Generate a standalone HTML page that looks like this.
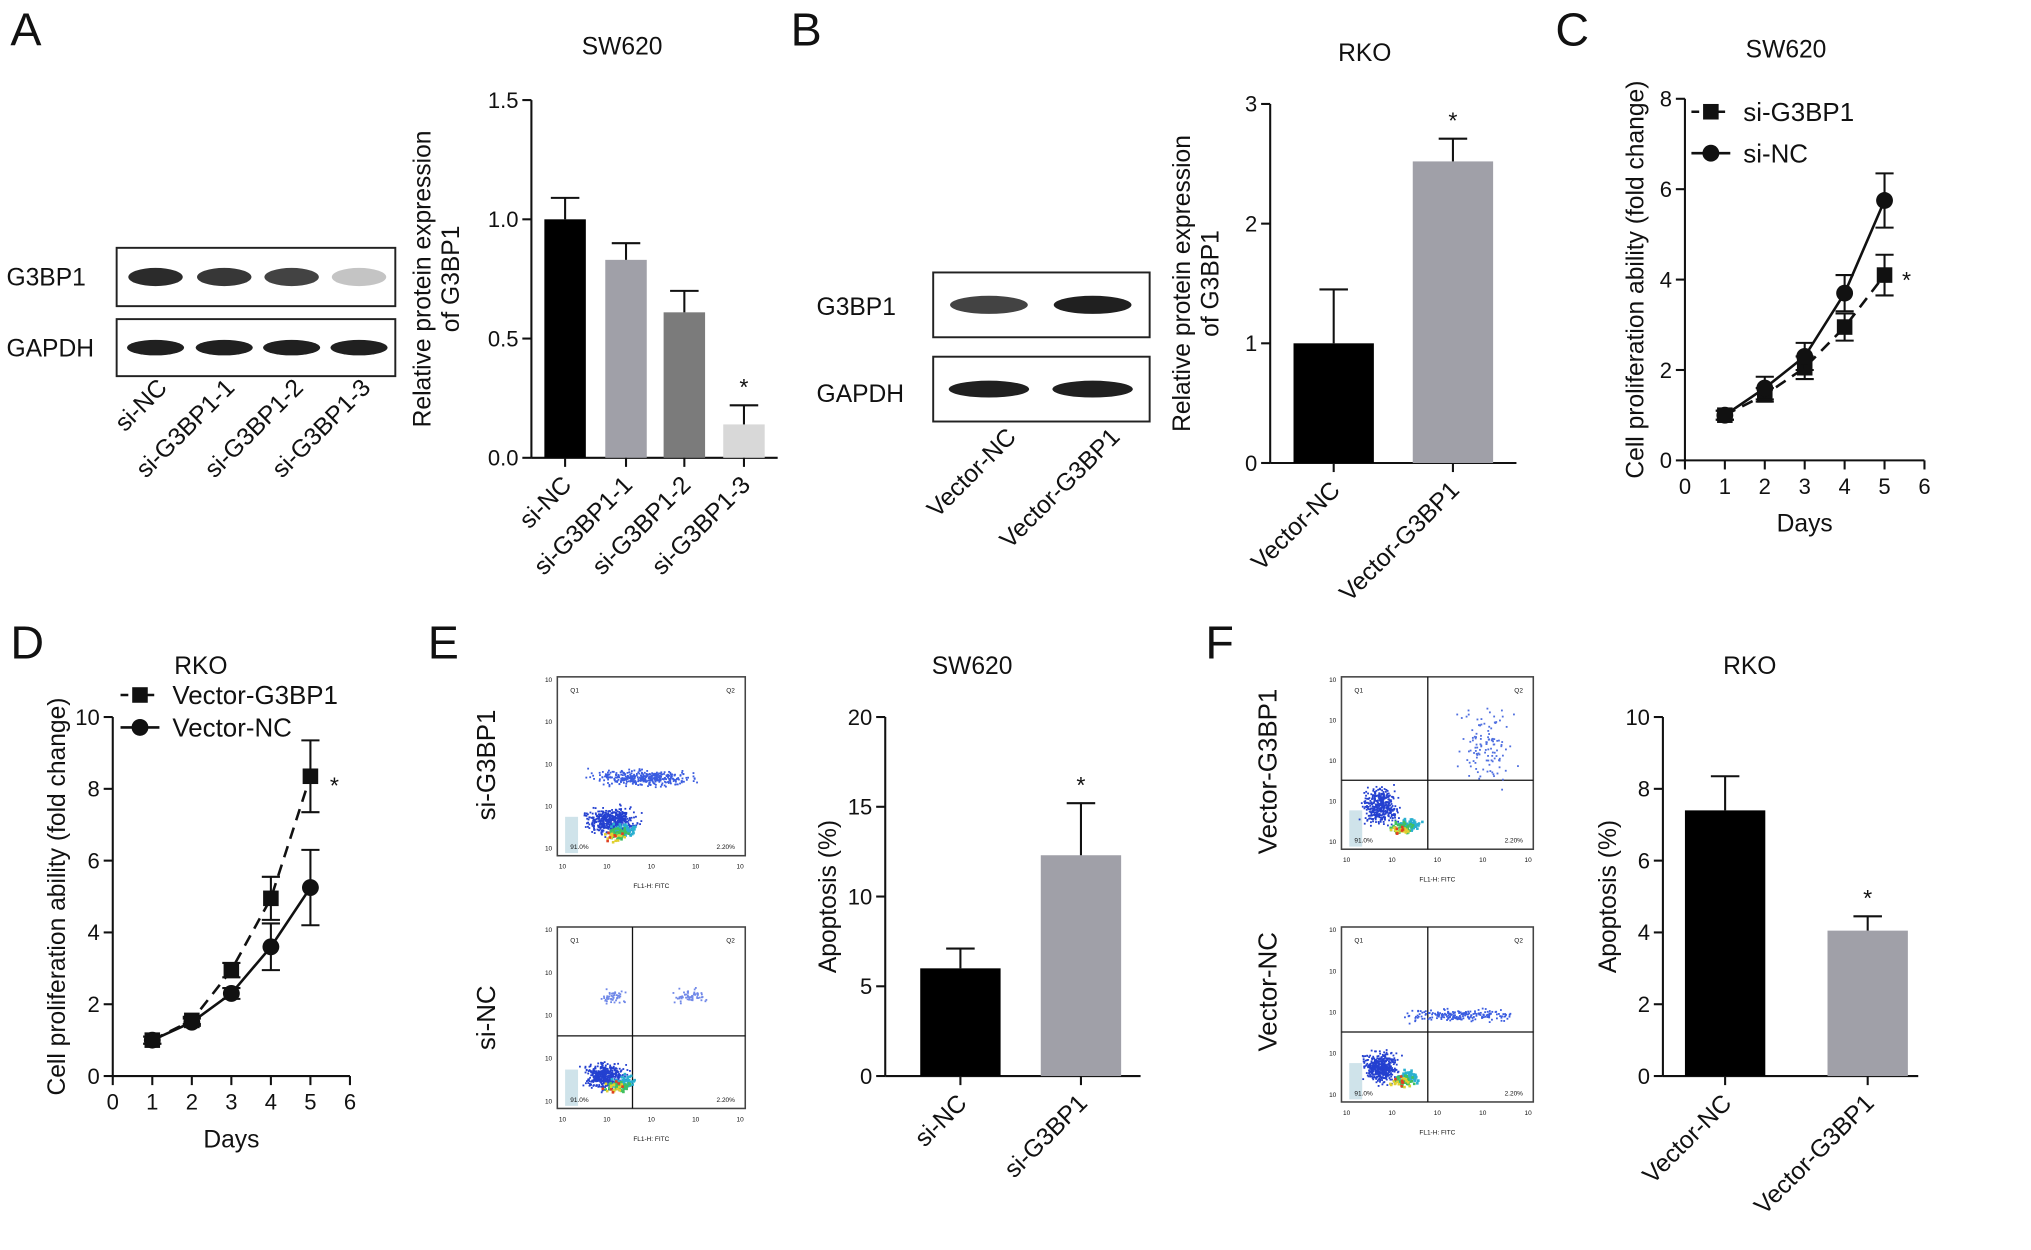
<!DOCTYPE html>
<html><head><meta charset="utf-8"><style>
html,body{margin:0;padding:0;background:#fff;}
svg{display:block;font-family:"Liberation Sans",Arial,sans-serif;}
</style></head><body>
<svg id="fig" width="2031" height="1250" viewBox="0 0 1567 964" xmlns="http://www.w3.org/2000/svg">
<rect width="1567" height="964" fill="#fff"/>
<g id="root"></g>
</svg>
<script>
// ---- data ----
const aCats=["si-NC","si-G3BP1-1","si-G3BP1-2","si-G3BP1-3"];
const aVals=[1.0,0.83,0.61,0.14];
const aErr=[0.09,0.07,0.09,0.08];
const aTicks=[0,0.5,1.0,1.5];
const bCats=["Vector-NC","Vector-G3BP1"];
const bVals=[1.0,2.52];
const bErr=[0.45,0.19];
const bTicks=[0,1,2,3];
const days=[1,2,3,4,5];
const dayTicks=[0,1,2,3,4,5,6];
const cSi=[1,1.45,2.05,2.95,4.1];
const cSiErr=[0.1,0.15,0.25,0.3,0.45];
const cNC=[1,1.6,2.3,3.7,5.75];
const cNCErr=[0.1,0.25,0.3,0.4,0.6];
const cTicks=[0,2,4,6,8];
const dG=[1,1.55,2.95,4.95,8.35];
const dGErr=[0.1,0.1,0.2,0.6,1.0];
const dNC=[1,1.5,2.3,3.6,5.25];
const dNCErr=[0.1,0.1,0.15,0.65,1.05];
const dTicks=[0,2,4,6,8,10];
const eCats=["si-NC","si-G3BP1"];
const eVals=[6.0,12.3];
const eErr=[1.1,2.9];
const eTicks=[0,5,10,15,20];
const fCats=["Vector-NC","Vector-G3BP1"];
const fVals=[7.4,4.05];
const fErr=[0.95,0.4];
const fTicks=[0,2,4,6,8,10];

const NS="http://www.w3.org/2000/svg";
const root=document.getElementById('root');
function el(tag,attrs,parent,text){const e=document.createElementNS(NS,tag);for(const k in attrs)e.setAttribute(k,attrs[k]);if(text!==undefined)e.textContent=text;(parent||root).appendChild(e);return e;}
function txt(x,y,s,size,anchor,parent,rot,name){const t=el('text',{x:x,y:y,'font-size':size,'text-anchor':anchor||'middle',fill:'#111'},parent,s);if(rot)t.setAttribute('transform','rotate('+rot+' '+x+' '+y+')');return t;}
function line(x1,y1,x2,y2,parent,w,dash){const l=el('line',{x1,y1,x2,y2,stroke:'#111','stroke-width':w||1.6},parent);if(dash)l.setAttribute('stroke-dasharray',dash);return l;}

[["A",8,35],["B",610,35],["C",1200,35],["D",8,508],["E",330,508],["F",930,508]].forEach(p=>{txt(p[1],p[2],p[0],36,'start',root,0,'panel-label-'+p[0].toLowerCase());});

function yAxis(g,x,y0,y1,ticks,max,fmt){const sy=v=>y0-(v/max)*(y0-y1);line(x,y0,x,y1,g);ticks.forEach(t=>{const y=sy(t);line(x-7,y,x,y,g);txt(x-10,y+6,fmt?fmt(t):String(t),17,'end',g,0,'y-tick-label');});return sy;}

function barChart(g,o){
 const sy=yAxis(g,o.ax,o.y0,o.y1,o.ticks,o.max,o.fmt);
 line(o.ax,o.y0,o.x1,o.y0,g);
 o.cats.forEach((c,i)=>{const bx=o.bx[i];const y=sy(o.vals[i]);
  const r=el('rect',{x:bx,y:y,width:o.bw,height:o.y0-y,fill:o.colors[i]},g);
  
  
  const cx=bx+o.bw/2,ye=sy(o.vals[i]+o.err[i]);
  line(cx,y,cx,ye,g);line(cx-11,ye,cx+11,ye,g);
  line(cx,o.y0,cx,o.y0+7,g);
  txt(cx+6,o.y0+22,c,19,'end',g,-45,'x-tick-label');
  if(o.star&&o.star[i])txt(cx,ye-8,'*',18,'middle',g,0,'significance-marker');
 });
 txt(o.tx,o.ty,o.title,19,'middle',g,0,'chart-title');
 o.ylab.forEach((s,k)=>txt(o.ylx+k*22,(o.y0+o.y1)/2,s,19,'middle',g,-90,'y-axis-title'));
}

function blot(g,x,y,w,h,lanes,intens,lw,lh,name){const r=el('rect',{x,y,width:w,height:h,fill:'#fff',stroke:'#222','stroke-width':1.5},g);
 lanes.forEach((lx,i)=>{const a=intens[i];el('ellipse',{cx:lx,cy:y+h/2,rx:lw/2,ry:lh/2,fill:'rgba(20,20,20,'+a+')'},g);});}

const gA=el('g',{});
blot(gA,90,191,215,45,[120,173,225,277],[0.9,0.85,0.8,0.25],42,14,'blot-g3bp1-a');
blot(gA,90,246,215,44,[120,173,225,277],[0.95,0.95,0.95,0.95],44,12,'blot-gapdh-a');
txt(5,220,'G3BP1',19,'start',gA,0,'blot-label');txt(5,275,'GAPDH',19,'start',gA,0,'blot-label');
[130,182,235,287].forEach((x,i)=>txt(x,300,aCats[i],19,'end',gA,-45,'lane-label'));
const gAc=el('g',{},gA);
barChart(gAc,{ax:410,y0:353,y1:77,ticks:aTicks,max:1.5,fmt:t=>t.toFixed(1),x1:600,cats:aCats,vals:aVals,err:aErr,bx:[420,467,512,558],bw:32,colors:['#000','#a0a0a8','#7b7b7b','#d8d8d8'],star:[0,0,0,1],title:'SW620',tx:480,ty:42,ylab:['Relative protein expression','of G3BP1'],ylx:332});

const gB=el('g',{});
blot(gB,720,210,167,50,[763,843],[0.8,0.95],60,14,'blot-g3bp1-b');
blot(gB,720,275,167,50,[763,843],[0.95,0.95],62,13,'blot-gapdh-b');
txt(630,243,'G3BP1',19,'start',gB,0,'blot-label');txt(630,310,'GAPDH',19,'start',gB,0,'blot-label');
[785,865].forEach((x,i)=>txt(x,338,bCats[i],19,'end',gB,-45,'lane-label'));
const gBc=el('g',{},gB);
barChart(gBc,{ax:980,y0:357,y1:80,ticks:bTicks,max:3,x1:1170,cats:bCats,vals:bVals,err:bErr,bx:[998,1090],bw:62,colors:['#000','#a0a0a8'],star:[0,1],title:'RKO',tx:1053,ty:47,ylab:['Relative protein expression','of G3BP1'],ylx:918});

function lineChart(g,o){
 const sy=yAxis(g,o.ax,o.y0,o.y1,o.ticks,o.max);
 const sx=d=>o.ax+d*o.dx;
 line(o.ax,o.y0,sx(6),o.y0,g);
 dayTicks.forEach(d=>{line(sx(d),o.y0,sx(d),o.y0+7,g);txt(sx(d),o.y0+26,String(d),17,'middle',g,0,'x-tick-label');});
 txt(sx(3),o.y0+55,'Days',19,'middle',g,0,'x-axis-title');
 txt(o.ylx,(o.y0+o.y1)/2,'Cell proliferation ability (fold change)',19,'middle',g,-90,'y-axis-title');
 txt(o.tx,o.ty,o.title,19,'middle',g,0,'chart-title');
 o.series.forEach((s,si)=>{
  const pts=days.map((d,i)=>sx(d)+','+sy(s.v[i])).join(' ');
  const pl=el('polyline',{points:pts,fill:'none',stroke:'#111','stroke-width':2},g);
  if(s.dash)pl.setAttribute('stroke-dasharray','9,6');
  
  
  days.forEach((d,i)=>{const x=sx(d),y=sy(s.v[i]),yt=sy(s.v[i]+s.e[i]),yb=sy(s.v[i]-s.e[i]);
   line(x,yb,x,yt,g);line(x-7,yt,x+7,yt,g);line(x-7,yb,x+7,yb,g);
   let m;
   if(s.sq)m=el('rect',{x:x-6,y:y-6,width:12,height:12,fill:'#111'},g);else m=el('circle',{cx:x,cy:y,r:6.5,fill:'#111'},g);
   
   
  });
 });
 txt(o.starx,o.stary,'*',18,'middle',g,0,'significance-marker');
 o.series.forEach((s,si)=>{const ly=o.ly+si*o.lgap;const lx=o.lx;
  line(lx,ly,lx+30,ly,g,2,s.dash?'6,4':null);
  if(s.sq)el('rect',{x:lx+9,y:ly-6,width:12,height:12,fill:'#111'},g);else el('circle',{cx:lx+15,cy:ly,r:6.5,fill:'#111'},g);
  txt(lx+40,ly+7,s.label,20,'start',g,0,'legend-entry');});
}
const gC=el('g',{});
lineChart(gC,{ax:1300,y0:355,y1:76,max:8,ticks:cTicks,dx:30.8,ylx:1268,tx:1378,ty:44,title:'SW620',lx:1305,ly:86,lgap:32,starx:1471,stary:222,
 series:[{name:'si-g3bp1',label:'si-G3BP1',v:cSi,e:cSiErr,dash:true,sq:true},{name:'si-nc',label:'si-NC',v:cNC,e:cNCErr,dash:false,sq:false}]});
const gD=el('g',{});
lineChart(gD,{ax:87,y0:830,y1:553,max:10,ticks:dTicks,dx:30.5,ylx:50,tx:155,ty:520,title:'RKO',lx:93,ly:536,lgap:25,starx:258,stary:612,
 series:[{name:'vector-g3bp1',label:'Vector-G3BP1',v:dG,e:dGErr,dash:true,sq:true},{name:'vector-nc',label:'Vector-NC',v:dNC,e:dNCErr,dash:false,sq:false}]});

let seed=7;function rnd(){seed=(seed*16807)%2147483647;return seed/2147483647;}
function gauss(){return (rnd()+rnd()+rnd()-1.5)/1.5;}
function flow(g,x,y,w,h,clusters,quad,name){
 const fg=el('g',{},g);
 el('rect',{x,y,width:w,height:h,fill:'#fff',stroke:'#444','stroke-width':1.2},fg);
 if(quad){line(x+w*quad[0],y,x+w*quad[0],y+h,fg,1);line(x,y+h*quad[1],x+w,y+h*quad[1],fg,1);}
 el('rect',{x:x+6,y:y+h-30,width:10,height:28,fill:'#cfe3ea'},fg);
 clusters.forEach(c=>{for(let i=0;i<c.n;i++){const px=x+w*(c.cx+gauss()*c.sx),py=y+h*(c.cy+gauss()*c.sy);
  if(px<x+2||px>x+w-2||py<y+2||py>y+h-2)continue;el('rect',{x:px,y:py,width:1.4,height:1.4,fill:c.col},fg);}});
 [[0.35,0.85,'#2ab0d0',60],[0.32,0.87,'#40c060',40],[0.3,0.88,'#e0d030',15],[0.3,0.88,'#e04020',6]].forEach(c=>{for(let i=0;i<c[3];i++){el('rect',{x:x+w*(c[0]+gauss()*0.08),y:y+h*(c[1]+gauss()*0.05),width:2,height:2,fill:c[2]},fg);}});
 for(let k=0;k<5;k++){txt(x-4,y+4+k*(h-8)/4,'10',5,'end',fg,0,'flow-tick');txt(x+4+k*(w-8)/4,y+h+10,'10',5,'middle',fg,0,'flow-tick');}
 txt(x+w/2,y+h+25,'FL1-H: FITC',5,'middle',fg,0,'flow-axis-title');
 txt(x+10,y+12,'Q1',5,'start',fg,0,'flow-quadrant');txt(x+w-8,y+12,'Q2',5,'end',fg,0,'flow-quadrant');
 txt(x+10,y+h-5,'91.0%',5,'start',fg,0,'flow-quadrant');txt(x+w-8,y+h-5,'2.20%',5,'end',fg,0,'flow-quadrant');
}
const gE=el('g',{});
flow(gE,430,522,145,138,[{cx:0.45,cy:0.56,sx:0.35,sy:0.06,n:380,col:'#3a5ce0'},{cx:0.28,cy:0.8,sx:0.18,sy:0.1,n:500,col:'#2440d0'}],null,'flow-plot-si-g3bp1');
flow(gE,430,715,145,140,[{cx:0.3,cy:0.38,sx:0.1,sy:0.05,n:50,col:'#7088e8'},{cx:0.7,cy:0.38,sx:0.12,sy:0.06,n:60,col:'#7088e8'},{cx:0.25,cy:0.82,sx:0.15,sy:0.1,n:450,col:'#2440d0'}],[0.4,0.6],'flow-plot-si-nc');
txt(382,590,'si-G3BP1',20,'middle',gE,-90,'row-label');txt(382,785,'si-NC',20,'middle',gE,-90,'row-label');
const gEc=el('g',{},gE);
barChart(gEc,{ax:683,y0:830,y1:553,ticks:eTicks,max:20,x1:880,cats:eCats,vals:eVals,err:eErr,bx:[710,803],bw:62,colors:['#000','#a0a0a8'],star:[0,1],title:'SW620',tx:750,ty:520,ylab:['Apoptosis (%)'],ylx:645});

const gF=el('g',{});
flow(gF,1035,522,148,133,[{cx:0.75,cy:0.4,sx:0.2,sy:0.3,n:120,col:'#5070e0'},{cx:0.2,cy:0.75,sx:0.12,sy:0.15,n:400,col:'#2440d0'}],[0.45,0.6],'flow-plot-vector-g3bp1');
flow(gF,1035,715,148,135,[{cx:0.6,cy:0.5,sx:0.35,sy:0.05,n:200,col:'#3a5ce0'},{cx:0.2,cy:0.8,sx:0.12,sy:0.12,n:450,col:'#2440d0'}],[0.45,0.6],'flow-plot-vector-nc');
txt(985,595,'Vector-G3BP1',20,'middle',gF,-90,'row-label');txt(985,765,'Vector-NC',20,'middle',gF,-90,'row-label');
const gFc=el('g',{},gF);
barChart(gFc,{ax:1283,y0:830,y1:553,ticks:fTicks,max:10,x1:1480,cats:fCats,vals:fVals,err:fErr,bx:[1300,1410],bw:62,colors:['#000','#a0a0a8'],star:[0,1],title:'RKO',tx:1350,ty:520,ylab:['Apoptosis (%)'],ylx:1247});
</script>
</body></html>
